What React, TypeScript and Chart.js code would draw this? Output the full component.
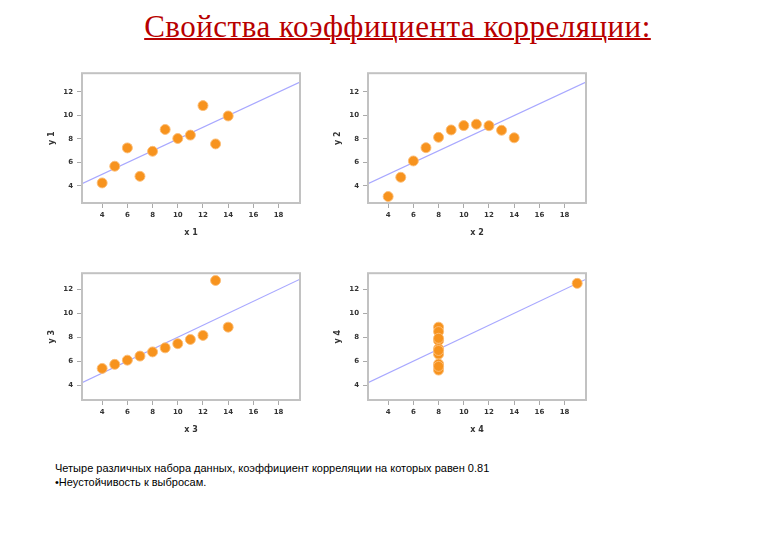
import React, { useEffect, useRef } from "react";
import { Chart, registerables } from "chart.js";

Chart.register(...registerables);

// Anscombe's quartet
const x123 = [10, 8, 13, 9, 11, 14, 6, 4, 12, 7, 5];
const y1 = [8.04, 6.95, 7.58, 8.81, 8.33, 9.96, 7.24, 4.26, 10.84, 4.82, 5.68];
const y2 = [9.14, 8.14, 8.74, 8.77, 9.26, 8.1, 6.13, 3.1, 9.13, 7.26, 4.74];
const y3 = [7.46, 6.77, 12.74, 7.11, 7.81, 8.84, 6.08, 5.39, 8.15, 6.42, 5.73];
const x4 = [8, 8, 8, 8, 8, 8, 8, 19, 8, 8, 8];
const y4 = [6.58, 5.76, 7.71, 8.84, 8.47, 7.04, 5.25, 12.5, 5.56, 7.91, 6.89];

const xTicks = [4, 6, 8, 10, 12, 14, 16, 18];
const yTicks = [4, 6, 8, 10, 12];
const fitCoef = [3.0, 0.5]; // intercept, slope

const xLabels = ["x 1", "x 2", "x 3", "x 4"];
const yLabels = ["y 1", "y 2", "y 3", "y 4"];

const TITLE = "Свойства коэффициента корреляции:";
const NOTE1 = "Четыре различных набора данных, коэффициент корреляции на которых равен 0.81";
const NOTE2 = "•Неустойчивость к выбросам.";

const framePlugin = {
  id: "frame",
  afterDraw(chart: any) {
    const { ctx, chartArea: a } = chart;
    ctx.save();
    ctx.strokeStyle = "#c2c2c2";
    ctx.lineWidth = 2;
    ctx.strokeRect(a.left, a.top, a.right - a.left, a.bottom - a.top);
    ctx.restore();
  },
};

type PanelProps = {
  xs: number[];
  ys: number[];
  xLabel: string;
  yLabel: string;
  left: number;
  top: number;
  height: number;
  yMin: number;
  yMax: number;
};

const X_MIN = 2.4;
const X_MAX = 19.7;

function Panel(p: PanelProps) {
  const ref = useRef<HTMLCanvasElement>(null);
  useEffect(() => {
    if (!ref.current) return;
    const tickFont = { family: "DejaVu Sans", size: 7, weight: "bold" as const };
    const fit = [X_MIN, X_MAX].map((x) => ({ x, y: fitCoef[0] + fitCoef[1] * x }));
    const chart = new Chart(ref.current, {
      type: "scatter",
      data: {
        datasets: [
          {
            type: "line",
            data: fit,
            borderColor: "#a8a8ff",
            borderWidth: 1.2,
            pointRadius: 0,
            order: 2,
          } as any,
          {
            data: p.xs.map((x, i) => ({ x, y: p.ys[i] })),
            backgroundColor: "#f7931e",
            borderColor: "rgba(252,190,120,0.9)",
            borderWidth: 1,
            pointRadius: 5,
            order: 1,
          },
        ],
      },
      options: {
        animation: false,
        responsive: false,
        layout: { padding: { top: 8, right: 10, left: 0, bottom: 0 } },
        plugins: { legend: { display: false }, tooltip: { enabled: false } },
        scales: {
          x: {
            type: "linear",
            min: X_MIN,
            max: X_MAX,
            afterBuildTicks: (axis: any) => {
              axis.ticks = xTicks.map((v) => ({ value: v }));
            },
            afterFit: (axis: any) => {
              axis.height = 47;
            },
            grid: { display: true, drawOnChartArea: false, drawTicks: true, tickLength: 5, color: "#aaaaaa" },
            border: { display: false },
            ticks: { font: tickFont, color: "#333", padding: 3, maxRotation: 0 },
            title: {
              display: true,
              text: p.xLabel,
              font: { family: "DejaVu Sans", size: 8, weight: "bold" },
              color: "#333",
              padding: { top: 0, bottom: 12 },
            },
          },
          y: {
            type: "linear",
            min: p.yMin,
            max: p.yMax,
            afterBuildTicks: (axis: any) => {
              axis.ticks = yTicks.map((v) => ({ value: v }));
            },
            afterFit: (axis: any) => {
              axis.width = 42;
            },
            grid: { display: true, drawOnChartArea: false, drawTicks: true, tickLength: 5, color: "#aaaaaa" },
            border: { display: false },
            ticks: { font: tickFont, color: "#333", padding: 4 },
            title: {
              display: true,
              text: p.yLabel,
              font: { family: "DejaVu Sans", size: 8, weight: "bold" },
              color: "#333",
              padding: { top: 7, bottom: 0 },
            },
          },
        },
      },
      plugins: [framePlugin],
    });
    return () => chart.destroy();
  }, []);
  return (
    <canvas
      ref={ref}
      width={270}
      height={p.height}
      style={{ position: "absolute", left: p.left, top: p.top, width: 270, height: p.height }}
    />
  );
}

export default function App() {
  return (
    <div
      style={{
        position: "absolute",
        left: 0,
        top: 0,
        width: 780,
        height: 540,
        background: "#fff",
        overflow: "hidden",
      }}
    >
      <div
        style={{
          position: "absolute",
          left: 0,
          top: 9,
          width: 795,
          textAlign: "center",
          fontFamily: "'Liberation Serif', 'Times New Roman', serif",
          fontSize: 31,
          letterSpacing: 0.5,
          lineHeight: "36px",
          color: "#b80000",
          textDecoration: "underline",
          textDecorationThickness: 2,
        }}
      >
        {TITLE}
      </div>
      <Panel xs={x123} ys={y1} xLabel={xLabels[0]} yLabel={yLabels[0]} left={40} top={65} height={185} yMin={2.55} yMax={13.6} />
      <Panel xs={x123} ys={y2} xLabel={xLabels[1]} yLabel={yLabels[1]} left={326} top={65} height={185} yMin={2.55} yMax={13.6} />
      <Panel xs={x123} ys={y3} xLabel={xLabels[2]} yLabel={yLabels[2]} left={40} top={265} height={182} yMin={2.75} yMax={13.35} />
      <Panel xs={x4} ys={y4} xLabel={xLabels[3]} yLabel={yLabels[3]} left={326} top={265} height={182} yMin={2.75} yMax={13.35} />
      <div
        style={{
          position: "absolute",
          left: 55,
          top: 461,
          fontFamily: "'Liberation Sans', Arial, sans-serif",
          fontSize: 11,
          lineHeight: "14px",
          color: "#000",
          whiteSpace: "nowrap",
        }}
      >
        <div>{NOTE1}</div>
        <div>{NOTE2}</div>
      </div>
    </div>
  );
}
